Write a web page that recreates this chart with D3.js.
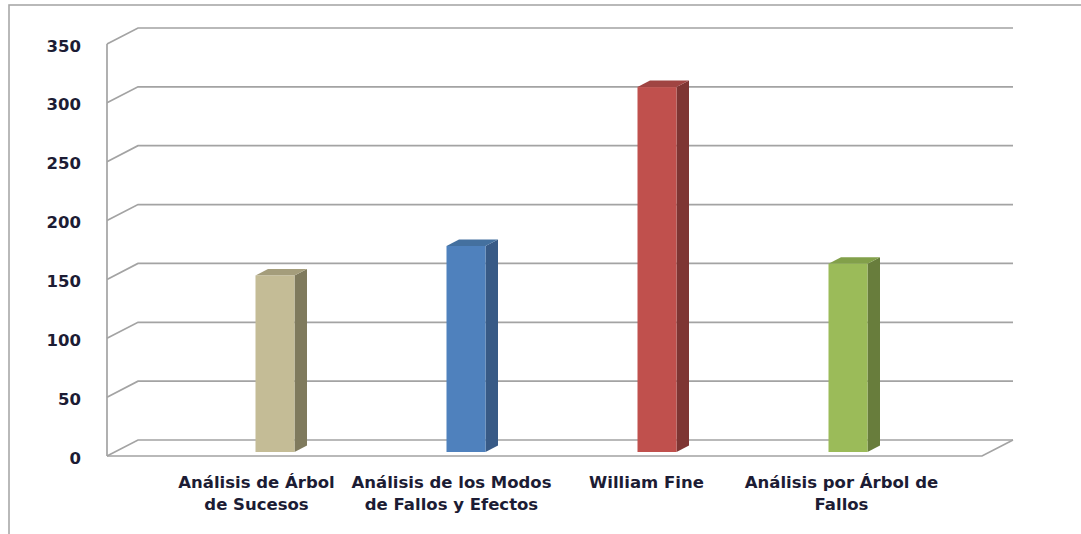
<!DOCTYPE html>
<html>
<head>
<meta charset="utf-8">
<script src="https://cdn.jsdelivr.net/npm/d3@7"></script>
<style>
  html, body { margin: 0; padding: 0; background: #ffffff; }
  svg { display: block; }
  text { font-family: "DejaVu Sans", Verdana, sans-serif; font-weight: bold; fill: #1c1c34; }
</style>
</head>
<body>
<svg id="chart" width="1081" height="534"></svg>
<script>
// ---- data ----
const categories = [
  ["Análisis de Árbol", "de Sucesos"],
  ["Análisis de los Modos", "de Fallos y Efectos"],
  ["William Fine"],
  ["Análisis por Árbol de", "Fallos"]
];
const values = [150, 175, 310, 160];
const yTicks = [0, 50, 100, 150, 200, 250, 300, 350];
const frontColors = ["#c4bc96", "#4f81bd", "#c0504d", "#9bbb59"];
const sideColors  = ["#7f7a5d", "#385a86", "#7e3533", "#687d3c"];
const topColors   = ["#a49d7b", "#44709f", "#a04442", "#82a04a"];

// ---- layout ----
const svg = d3.select("#chart");
const W = 1081, H = 534;
const floorL = 107, floorR = 982;
const depthX = 31, depthY = -16;
const barFrontFrac = 0.25;
const barW = 39, barDX = 12.5, barDY = -6.5;

const keys = categories.map((c, i) => "c" + i);
const y = d3.scaleLinear().domain([0, 350]).range([456, 44]);
const xBar = d3.scalePoint().domain(keys).range([275, 848]);
const xLab = d3.scalePoint().domain(keys).range([256.5, 841.5]);

// outer border
svg.append("rect").attr("x", 9).attr("y", 5).attr("width", W).attr("height", H)
  .attr("fill", "#ffffff").attr("stroke", "#a8a8a8").attr("stroke-width", 1.6);

const grid = svg.append("g").attr("fill", "none").attr("stroke", "#a3a3a3").attr("stroke-width", 1.7);

// gridlines on left wall + back wall
yTicks.forEach(t => {
  const yf = y(t);
  grid.append("path").attr("d",
    `M${floorL},${yf} L${floorL + depthX},${yf + depthY} L${floorR + depthX},${yf + depthY}`);
});
// left wall front edge
grid.append("path").attr("d", `M${floorL},${y(350)} L${floorL},${y(0)}`);
// floor front and right edges
grid.append("path").attr("d",
  `M${floorL},${y(0)} L${floorR},${y(0)} L${floorR + depthX},${y(0) + depthY}`);

// y tick labels
svg.append("g").selectAll("text").data(yTicks).join("text")
  .attr("x", 81).attr("y", d => y(d) + 7.5)
  .attr("text-anchor", "end").attr("font-size", "16.5px")
  .text(d => d);

// bars
const offY = depthY * barFrontFrac;
const bars = svg.append("g");
values.forEach((v, i) => {
  const xc = xBar(keys[i]);
  const x0 = xc - barW / 2, x1 = xc + barW / 2;
  const yb = y(0) + offY, yt = y(v) + offY;
  const g = bars.append("g");
  // side
  g.append("path").attr("fill", sideColors[i]).attr("d",
    `M${x1},${yt} L${x1 + barDX},${yt + barDY} L${x1 + barDX},${yb + barDY} L${x1},${yb} Z`);
  // top
  g.append("path").attr("fill", topColors[i]).attr("d",
    `M${x0},${yt} L${x0 + barDX},${yt + barDY} L${x1 + barDX},${yt + barDY} L${x1},${yt} Z`);
  // front
  g.append("rect").attr("x", x0).attr("y", yt).attr("width", barW).attr("height", yb - yt)
    .attr("fill", frontColors[i]);
});

// category labels
const labs = svg.append("g");
categories.forEach((lines, i) => {
  const t = labs.append("text").attr("text-anchor", "middle").attr("font-size", "16.5px");
  lines.forEach((ln, j) => {
    t.append("tspan").attr("x", xLab(keys[i])).attr("y", 488 + j * 22).text(ln);
  });
});
</script>
</body>
</html>
